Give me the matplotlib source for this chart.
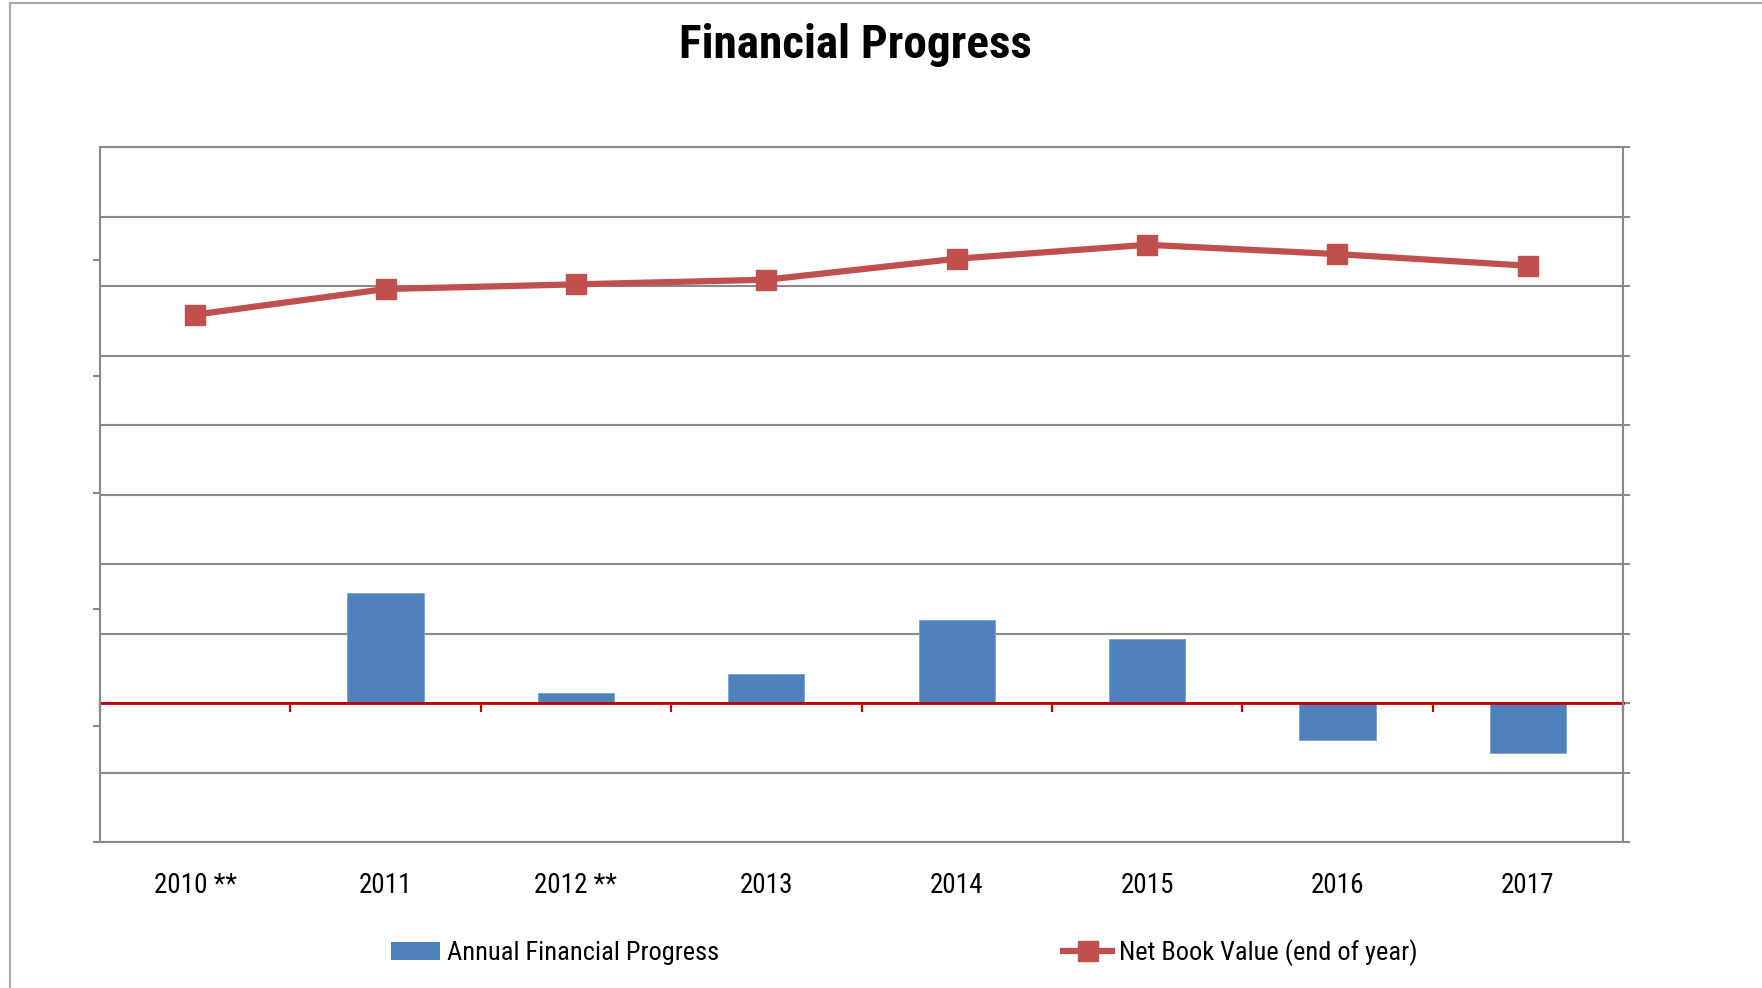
import matplotlib
matplotlib.use('Agg')
import matplotlib.pyplot as plt
from matplotlib import font_manager
from matplotlib.lines import Line2D
from matplotlib.patches import Patch

years = ['2010 **', '2011', '2012 **', '2013', '2014', '2015', '2016', '2017']
annual_progress = [0.0, 1.58, 0.15, 0.42, 1.19, 0.92, -0.53, -0.72]
net_book_value = [4.53, 4.75, 4.79, 4.83, 5.01, 5.13, 5.05, 4.95]

# narrowest sans we can find
names = set(f.name for f in font_manager.fontManager.ttflist)
font = 'DejaVu Sans'
for cand in ['Liberation Sans Narrow', 'Roboto Condensed', 'Open Sans Condensed',
             'Noto Sans Condensed', 'Liberation Sans']:
    if cand in names:
        font = cand
        break
plt.rcParams['font.family'] = [font, 'DejaVu Sans']

W, H = 1762, 988
grey = '#898989'
blue = '#4F81BD'
red_line = '#C0504D'
axis_red = '#C00000'

fig = plt.figure(figsize=(W / 100, H / 100), dpi=100)
ax = fig.add_axes([100 / W, 146 / H, 1523 / W, 695 / H])

x = list(range(len(years)))
ax.bar(x, annual_progress, width=0.4, color=blue, edgecolor='#7DA2CF', lw=0.6, zorder=2)
ax.set_xlim(-0.5, len(years) - 0.5)
ax.set_ylim(-2, 8)
ax.set_yticks(range(-2, 9))
ax.yaxis.grid(True, color=grey, lw=1.5)
ax.set_axisbelow(True)

# category axis crosses at zero, ticks between categories
ax.set_xticks([i - 0.5 for i in range(len(years) + 1)])
ax.tick_params(axis='x', direction='out', length=6.5, width=1.6, color=axis_red, labelbottom=False)
ax.spines['bottom'].set_position(('data', 0))
ax.spines['bottom'].set_color(axis_red)
ax.spines['bottom'].set_linewidth(2.0)
for s in ['top', 'left', 'right']:
    ax.spines[s].set_visible(False)

for i, label in enumerate(years):
    ax.text(i, -0.062, label, transform=ax.get_xaxis_transform(), ha='center', va='center', fontsize=19.5)

# net book value on its own scale
ax2 = ax.twinx()
ax2.plot(x, net_book_value, color=red_line, lw=4.5, marker='s', ms=14.5, mec=red_line, zorder=3)
ax2.set_ylim(0, 5.97)
ax2.set_yticks(range(0, 6))
ax2.yaxis.tick_left()
ax2.tick_params(axis='y', direction='out', length=5, width=1.5, color=grey, labelleft=False, labelright=False)
for s in ax2.spines.values():
    s.set_color(grey)
    s.set_linewidth(1.5)

# twinx moves the bar ticks to the left, put them back on the right
ax.yaxis.tick_right()
ax.tick_params(axis='y', direction='out', length=5, width=1.5, color=grey, labelleft=False, labelright=False)

fig.text(855 / W, 1 - 45 / H, 'Financial Progress', ha='center', va='center', fontsize=34, fontweight='bold')

bar_handle = Patch(facecolor=blue)
line_handle = Line2D([], [], color=red_line, lw=4.5, marker='s', ms=14.5, mec=red_line)
fig.legend(handles=[bar_handle], labels=['Annual Financial Progress'], loc='center left',
           bbox_to_anchor=(391 / W, 35 / H), frameon=False, fontsize=19, handlelength=1.86,
           handletextpad=0.27, borderpad=0, borderaxespad=0)
fig.legend(handles=[line_handle], labels=['Net Book Value (end of year)'], loc='center left',
           bbox_to_anchor=(1063 / W, 35 / H), frameon=False, fontsize=19, handlelength=1.86,
           handletextpad=0.27, borderpad=0, borderaxespad=0)

# outer chart frame
fig.add_artist(Line2D([10 / W, 10 / W], [0, 1 - 3 / H], color='#A6A6A6', lw=1.5, transform=fig.transFigure))
fig.add_artist(Line2D([10 / W, 1], [1 - 3 / H, 1 - 3 / H], color='#A6A6A6', lw=1.5, transform=fig.transFigure))

fig.savefig('out.png', dpi=100)
